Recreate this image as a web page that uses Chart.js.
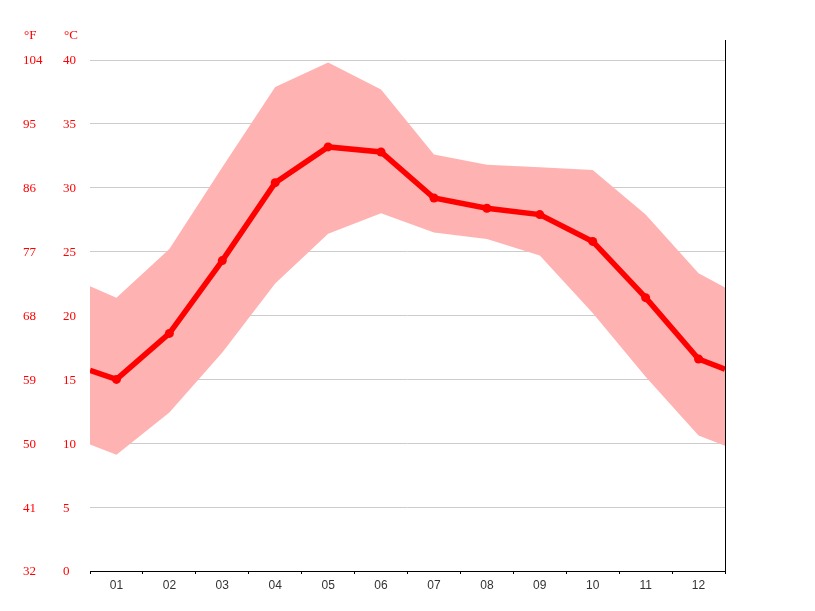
<!DOCTYPE html>
<html>
<head>
<meta charset="utf-8">
<script src="https://cdn.jsdelivr.net/npm/chart.js@4"></script>
<style>
  html, body { margin: 0; padding: 0; background: #fff; }
  #wrap { width: 815px; height: 611px; }
</style>
</head>
<body>
<div id="wrap"><canvas id="c" width="815" height="611"></canvas></div>
<script>
// month positions, incl. the wrap-around edges at 0.5 and 12.5
const monthPos = [0.5, 1, 2, 3, 4, 5, 6, 7, 8, 9, 10, 11, 12, 12.5];
const monthLabels = ['01', '02', '03', '04', '05', '06', '07', '08', '09', '10', '11', '12'];
const tempAvg  = [15.7, 15.0, 18.6, 24.3, 30.4, 33.2, 32.8, 29.2, 28.4, 27.9, 25.8, 21.4, 16.6, 15.8];
const tempHigh = [22.3, 21.4, 25.2, 31.6, 37.9, 39.8, 37.7, 32.6, 31.8, 31.6, 31.4, 27.9, 23.3, 22.2];
const tempLow  = [9.9, 9.1, 12.4, 17.1, 22.5, 26.4, 28.0, 26.5, 26.0, 24.7, 20.2, 15.2, 10.6, 9.8];
const celsiusTicks = [0, 5, 10, 15, 20, 25, 30, 35, 40];
const fahrenheitTicks = [32, 41, 50, 59, 68, 77, 86, 95, 104];

const toPts = arr => arr.map((v, i) => ({ x: monthPos[i], y: v }));
const sideFont = '"Liberation Serif", serif';

const sidePlugin = {
    id: 'sideLabels',
    afterDraw(chart) {
        const ctx = chart.ctx;
        const y = chart.scales.y;
        const area = chart.chartArea;
        ctx.save();
        ctx.font = '13px ' + sideFont;
        ctx.fillStyle = '#ff0000';
        ctx.textBaseline = 'middle';
        ctx.textAlign = 'left';
        celsiusTicks.forEach((t, i) => {
            const py = y.getPixelForValue(t) + 1;
            ctx.fillText(String(t), 63, py);
            ctx.fillText(String(fahrenheitTicks[i]), 23, py);
        });
        ctx.fillText('°F', 24, 36);
        ctx.fillText('°C', 64, 36);
        // right border line
        ctx.strokeStyle = '#000';
        ctx.lineWidth = 1;
        ctx.beginPath();
        ctx.moveTo(Math.round(area.right) + 0.5, area.top);
        ctx.lineTo(Math.round(area.right) + 0.5, area.bottom + 3);
        ctx.stroke();
        ctx.restore();
    }
};

new Chart(document.getElementById('c'), {
    type: 'line',
    data: {
        datasets: [
            {
                data: toPts(tempAvg),
                borderColor: '#ff0000',
                backgroundColor: '#ff0000',
                borderWidth: 5.5,
                pointRadius: c => (c.dataIndex === 0 || c.dataIndex === monthPos.length - 1) ? 0 : 4.5,
                pointBorderWidth: 0,
                fill: false,
                tension: 0,
                order: 0
            },
            {
                data: toPts(tempHigh),
                borderWidth: 0,
                borderColor: 'transparent',
                backgroundColor: '#ffb2b2',
                pointRadius: 0,
                fill: '+1',
                tension: 0,
                order: 1
            },
            {
                data: toPts(tempLow),
                borderWidth: 0,
                borderColor: 'transparent',
                backgroundColor: '#ffb2b2',
                pointRadius: 0,
                fill: false,
                tension: 0,
                order: 2
            }
        ]
    },
    options: {
        responsive: false,
        animation: false,
        layout: { padding: { top: 40, right: 90, left: 0, bottom: 0 } },
        plugins: {
            legend: { display: false },
            tooltip: { enabled: false }
        },
        scales: {
            x: {
                type: 'linear',
                min: 0.5,
                max: 12.5,
                afterBuildTicks: s => { s.ticks = []; for (let v = 0.5; v <= 12.5; v += 0.5) s.ticks.push({ value: v }); },
                afterFit: s => { s.height = 40; },
                grid: {
                    drawOnChartArea: false,
                    drawTicks: true,
                    tickLength: 3,
                    tickColor: c => (c.tick && c.tick.value % 1 === 0) ? 'transparent' : '#000'
                },
                border: { display: true, color: '#000', width: 1 },
                ticks: {
                    autoSkip: false,
                    maxRotation: 0,
                    padding: 4,
                    color: '#333',
                    font: { family: '"Liberation Sans", sans-serif', size: 12 },
                    callback: v => (v % 1 === 0) ? monthLabels[v - 1] : ''
                }
            },
            y: {
                min: 0,
                max: 41.57,
                afterBuildTicks: s => { s.ticks = celsiusTicks.map(v => ({ value: v })); },
                afterFit: s => { s.width = 90; },
                grid: { color: '#cccccc', lineWidth: 1, drawTicks: false },
                border: { display: false },
                ticks: { display: false }
            }
        }
    },
    plugins: [sidePlugin]
});
</script>
</body>
</html>
